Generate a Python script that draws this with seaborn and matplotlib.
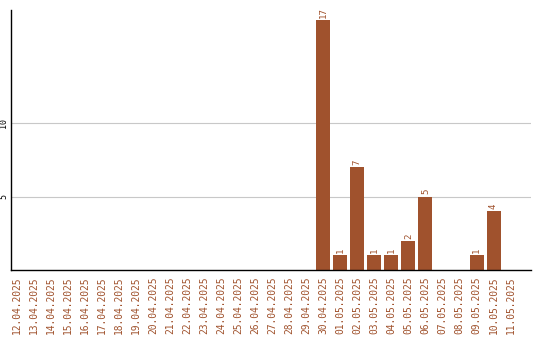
import matplotlib
matplotlib.use("Agg")
import matplotlib.pyplot as plt
import seaborn as sns
import pandas as pd

dates = ["12.04.2025", "13.04.2025", "14.04.2025", "15.04.2025", "16.04.2025",
         "17.04.2025", "18.04.2025", "19.04.2025", "20.04.2025", "21.04.2025",
         "22.04.2025", "23.04.2025", "24.04.2025", "25.04.2025", "26.04.2025",
         "27.04.2025", "28.04.2025", "29.04.2025", "30.04.2025", "01.05.2025",
         "02.05.2025", "03.05.2025", "04.05.2025", "05.05.2025", "06.05.2025",
         "07.05.2025", "08.05.2025", "09.05.2025", "10.05.2025", "11.05.2025"]
values = [0, 0, 0, 0, 0, 0, 0, 0, 0, 0,
          0, 0, 0, 0, 0, 0, 0, 0, 17, 1,
          7, 1, 1, 2, 5, 0, 0, 1, 4, 0]
yticks = [5, 10]

BROWN = "#A0522D"

sns.set_theme(style="white")
plt.rcParams["font.family"] = ["DejaVu Sans Mono", "DejaVu Sans"]

df = pd.DataFrame({"date": dates, "value": values})

fig = plt.figure(figsize=(5.4, 3.4), dpi=100)
ax = fig.add_axes([11 / 540, 70 / 340, 520 / 540, 260 / 340])
sns.barplot(data=df, x="date", y="value", color=BROWN, saturation=1,
            width=14 / 17, ax=ax, linewidth=0)

ax.set_xlim(-0.35, 30.2)
ax.set_ylim(0, 17.7)
ax.set_yticks(yticks)
ax.set_yticklabels([str(t) for t in yticks], rotation=90, va="center",
                   fontsize=6, color="black")
ax.tick_params(axis="y", length=0, pad=2)
ax.set_xticks(range(len(dates)))
ax.set_xticklabels(dates, rotation=90, fontsize=6.9, color=BROWN, va="top")
ax.tick_params(axis="x", length=0, pad=5)
ax.set_xlabel("")
ax.set_ylabel("")

ax.grid(axis="y", color="#c8c8c8", linewidth=0.8)
ax.set_axisbelow(True)
for s in ["top", "right"]:
    ax.spines[s].set_visible(False)
for s in ["left", "bottom"]:
    ax.spines[s].set_color("black")
    ax.spines[s].set_linewidth(1)

for i, v in enumerate(values):
    if v > 0:
        ax.annotate(str(v), (i, v), xytext=(0, 1.5), textcoords="offset points",
                    rotation=90, ha="center", va="bottom", fontsize=6.6,
                    color=BROWN)

fig.savefig("out.png", dpi=100)
